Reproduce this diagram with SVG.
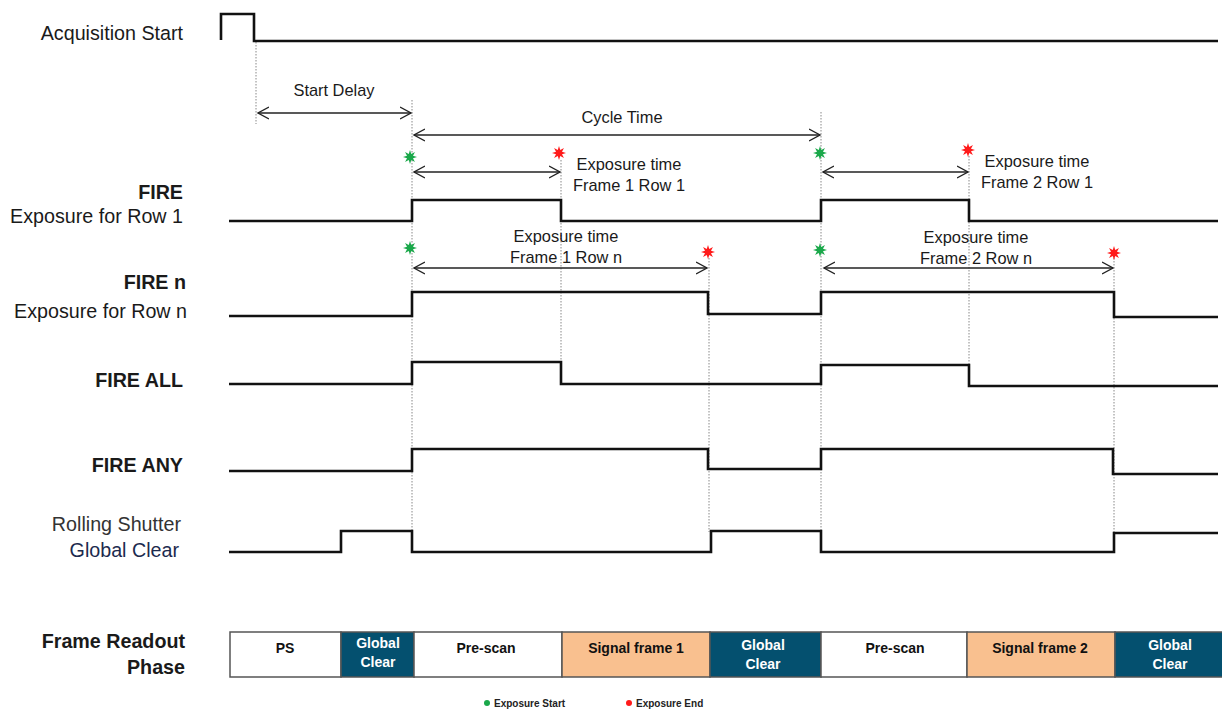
<svg xmlns="http://www.w3.org/2000/svg" width="1222" height="711" viewBox="0 0 1222 711">
<style>
.lbl{font-family:"Liberation Sans",Arial,sans-serif;font-size:19.7px;fill:#1a1a1a;text-anchor:end}
.b{font-weight:bold}
.sm{font-family:"Liberation Sans",Arial,sans-serif;font-size:16.4px;fill:#1a1a1a;text-anchor:middle}
.sig{fill:none;stroke:#111;stroke-width:2.6;stroke-linejoin:miter}
.dot{fill:none;stroke:#888;stroke-width:1;stroke-dasharray:1.5 1.5}
.arr{fill:none;stroke:#222;stroke-width:1.4;marker-start:url(#ah);marker-end:url(#ah)}
.cell{stroke:#555;stroke-width:1.5}
.ct{font-family:"Liberation Sans",Arial,sans-serif;font-size:14px;font-weight:bold;text-anchor:middle}
.leg{font-family:"Liberation Sans",Arial,sans-serif;font-size:10px;font-weight:bold;fill:#222}
</style>
<defs>
<marker id="ah" markerUnits="userSpaceOnUse" markerWidth="14" markerHeight="14" refX="11" refY="6" orient="auto-start-reverse" viewBox="0 0 14 12">
<path d="M0,0 L11,6 L0,12" fill="none" stroke="#222" stroke-width="1.4"/>
</marker>
<polygon id="star" points="7,0 3,1.25 4.95,4.95 1.25,3 0,7 -1.25,3 -4.95,4.95 -3,1.25 -7,0 -3,-1.25 -4.95,-4.95 -1.25,-3 0,-7 1.25,-3 4.95,-4.95 3,-1.25"/>
</defs>
<rect width="1222" height="711" fill="#fff"/>

<g id="guides">
<line class="dot" x1="256" y1="42" x2="256" y2="124"/>
<line class="dot" x1="412" y1="100" x2="412" y2="552"/>
<line class="dot" x1="821" y1="112" x2="821" y2="552"/>
<line class="dot" x1="561" y1="160" x2="561" y2="384"/>
<line class="dot" x1="969" y1="156" x2="969" y2="386"/>
<line class="dot" x1="709" y1="258" x2="709" y2="532"/>
<line class="dot" x1="1114" y1="258" x2="1114" y2="533"/>
</g>

<g id="acq">
<text class="lbl" x="183" y="40">Acquisition Start</text>
<polyline class="sig" points="221,40 221,14 254,14 254,41 1218,41"/>
</g>

<g id="fire1">
<text class="lbl b" x="183" y="199">FIRE</text>
<text class="lbl" x="183" y="223">Exposure for Row 1</text>
<polyline class="sig" points="229,221 412,221 412,200 561,200 561,221 821,221 821,200 969,200 969,221 1218,221"/>
</g>

<g id="firen">
<text class="lbl b" x="186" y="289">FIRE n</text>
<text class="lbl" x="187" y="318">Exposure for Row n</text>
<polyline class="sig" points="229,316 412,316 412,292 708,292 708,314 821,314 821,292 1114,292 1114,317 1218,317"/>
</g>

<g id="fireall">
<text class="lbl b" x="183" y="387">FIRE ALL</text>
<polyline class="sig" points="229,384 412,384 412,362 561,362 561,384 821,384 821,365 969,365 969,386 1218,386"/>
</g>

<g id="fireany">
<text class="lbl b" x="183" y="472">FIRE ANY</text>
<polyline class="sig" points="229,471 412,471 412,449 708,449 708,469 821,469 821,449 1113,449 1113,474 1218,474"/>
</g>

<g id="rolling">
<text class="lbl" x="181" y="531" style="fill:#333">Rolling Shutter</text>
<text class="lbl" x="179" y="557" style="fill:#1c2a4e">Global Clear</text>
<polyline class="sig" points="229,552 341,552 341,531 412,531 412,552 711,552 711,531 821,531 821,552 1114,552 1114,533 1218,533"/>
</g>

<g id="connectors">
<line class="arr" x1="258" y1="113" x2="411" y2="113"/>
<line class="arr" x1="414" y1="135" x2="820" y2="135"/>
<line class="arr" x1="414" y1="172" x2="560" y2="172"/>
<line class="arr" x1="823" y1="172" x2="968" y2="172"/>
<line class="arr" x1="414" y1="268" x2="707" y2="268"/>
<line class="arr" x1="824" y1="268" x2="1113" y2="268"/>
</g>

<g id="timing-labels">
<text class="sm" x="334" y="96">Start Delay</text>
<text class="sm" x="622" y="123">Cycle Time</text>
<text class="sm" x="629" y="170">Exposure time</text>
<text class="sm" x="629" y="191">Frame 1 Row 1</text>
<text class="sm" x="1037" y="167">Exposure time</text>
<text class="sm" x="1037" y="188">Frame 2 Row 1</text>
<text class="sm" x="566" y="242">Exposure time</text>
<text class="sm" x="566" y="263">Frame 1 Row n</text>
<text class="sm" x="976" y="243">Exposure time</text>
<text class="sm" x="976" y="264">Frame 2 Row n</text>
</g>

<g id="stars">
<use href="#star" x="410" y="157" fill="#1aa84a"/>
<use href="#star" x="820" y="153" fill="#1aa84a"/>
<use href="#star" x="410" y="248" fill="#1aa84a"/>
<use href="#star" x="820" y="250" fill="#1aa84a"/>
<use href="#star" x="559" y="153" fill="#ff1a1a"/>
<use href="#star" x="968" y="150" fill="#ff1a1a"/>
<use href="#star" x="708" y="252" fill="#ff1a1a"/>
<use href="#star" x="1114" y="253" fill="#ff1a1a"/>
</g>

<g id="readout">
<text class="lbl b" x="185" y="648">Frame Readout</text>
<text class="lbl b" x="185" y="674">Phase</text>
<rect class="cell" x="230" y="632" width="111" height="45" fill="#fff"/>
<rect class="cell" x="341" y="632" width="73" height="45" fill="#04506f"/>
<rect class="cell" x="414" y="632" width="148" height="45" fill="#fff"/>
<rect class="cell" x="562" y="632" width="148" height="45" fill="#f9c08f"/>
<rect class="cell" x="710" y="632" width="111" height="45" fill="#04506f"/>
<rect class="cell" x="821" y="632" width="146" height="45" fill="#fff"/>
<rect class="cell" x="967" y="632" width="148" height="45" fill="#f9c08f"/>
<rect class="cell" x="1115" y="632" width="108" height="45" fill="#04506f"/>
<text class="ct" x="285" y="653" fill="#111">PS</text>
<text class="ct" x="378" y="648" fill="#fff">Global</text>
<text class="ct" x="378" y="667" fill="#fff">Clear</text>
<text class="ct" x="486" y="653" fill="#111">Pre-scan</text>
<text class="ct" x="636" y="653" fill="#111">Signal frame 1</text>
<text class="ct" x="763" y="650" fill="#fff">Global</text>
<text class="ct" x="763" y="669" fill="#fff">Clear</text>
<text class="ct" x="895" y="653" fill="#111">Pre-scan</text>
<text class="ct" x="1040" y="653" fill="#111">Signal frame 2</text>
<text class="ct" x="1170" y="650" fill="#fff">Global</text>
<text class="ct" x="1170" y="669" fill="#fff">Clear</text>
</g>

<g id="legend">
<circle cx="487" cy="703" r="3" fill="#1aa84a"/>
<text class="leg" x="494" y="707">Exposure Start</text>
<circle cx="629" cy="703" r="3" fill="#ff1a1a"/>
<text class="leg" x="636" y="707">Exposure End</text>
</g>
</svg>
